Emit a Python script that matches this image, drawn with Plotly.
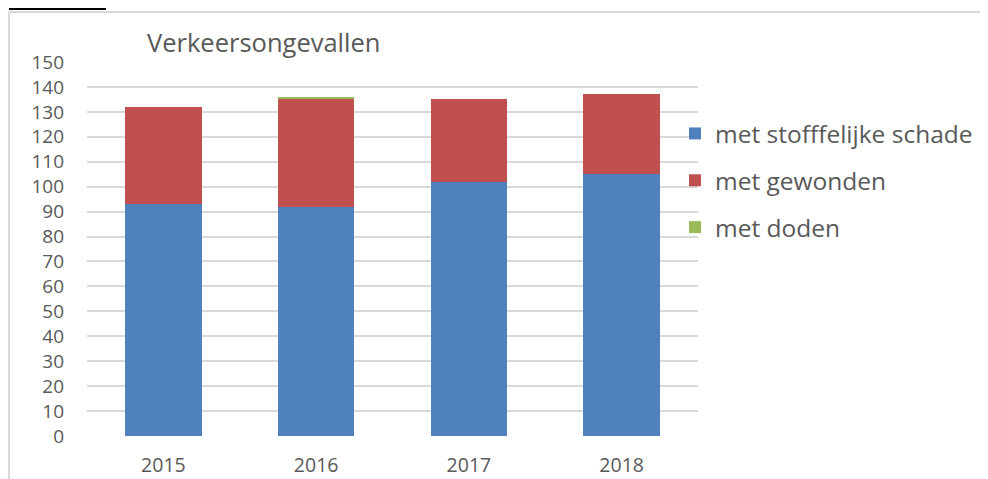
import plotly.graph_objects as go

years = ["2015", "2016", "2017", "2018"]
stoffelijk = [93, 92, 102, 105]
gewonden = [39, 43, 33, 32]
doden = [0, 1, 0, 0]
series_names = ["met stofffelijke schade", "met gewonden", "met doden"]
colors = ["#4f81bd", "#c0504d", "#9bbb59"]
y_ticks = list(range(0, 151, 10))

# the page adds an 8px body margin, so the figure is 980x471
W, H = 980, 471
L, R, T, B = 79, 290, 54, 43
pw, ph = W - L - R, H - T - B

def px(x):
    return (x - L) / pw

def py(y):
    return (H - B - y) / ph

fig = go.Figure()
for i, (name, vals, col) in enumerate(zip(series_names, [stoffelijk, gewonden, doden], colors)):
    fig.add_trace(go.Bar(x=years, y=vals, name=name, legendgroup=f"g{i}",
                         marker=dict(color=col, line=dict(width=0))))

fig.update_layout(
    width=W, height=H,
    barmode="stack", bargap=0.5,
    plot_bgcolor="white", paper_bgcolor="white",
    margin=dict(l=L, r=R, t=T, b=B, autoexpand=False),
    font=dict(family="Open Sans", color="#595959"),
    xaxis=dict(showgrid=False, showline=False, ticks="outside", ticklen=12,
               tickcolor="rgba(0,0,0,0)", automargin=False,
               tickfont=dict(size=19.5, color="#595959")),
    yaxis=dict(range=[0, 150], tickvals=y_ticks, showgrid=True, gridcolor="#d9d9d9",
               gridwidth=1.5, zeroline=False, ticklabelstandoff=22, automargin=False,
               tickfont=dict(size=19, color="#595959")),
    legend=dict(x=px(667), y=py(103), xanchor="left", yanchor="top",
                traceorder="grouped", font=dict(size=24.5, color="#595959"),
                itemwidth=30, tracegroupgap=12, bgcolor="rgba(0,0,0,0)"),
    annotations=[dict(text="Verkeersongevallen", xref="paper", yref="paper",
                      x=px(137), y=py(34), xanchor="left", yanchor="middle",
                      showarrow=False, font=dict(size=25.5, color="#595959"))],
    shapes=[
        dict(type="line", xref="paper", yref="paper", x0=px(1), x1=px(1),
             y0=py(4), y1=py(480), line=dict(color="#d9d9d9", width=2)),
        dict(type="line", xref="paper", yref="paper", x0=px(1), x1=px(985),
             y0=py(4), y1=py(4), line=dict(color="#d9d9d9", width=2)),
        dict(type="line", xref="paper", yref="paper", x0=px(1), x1=px(98),
             y0=py(1), y1=py(1), line=dict(color="black", width=2)),
    ],
)

fig.write_html("out.html")
